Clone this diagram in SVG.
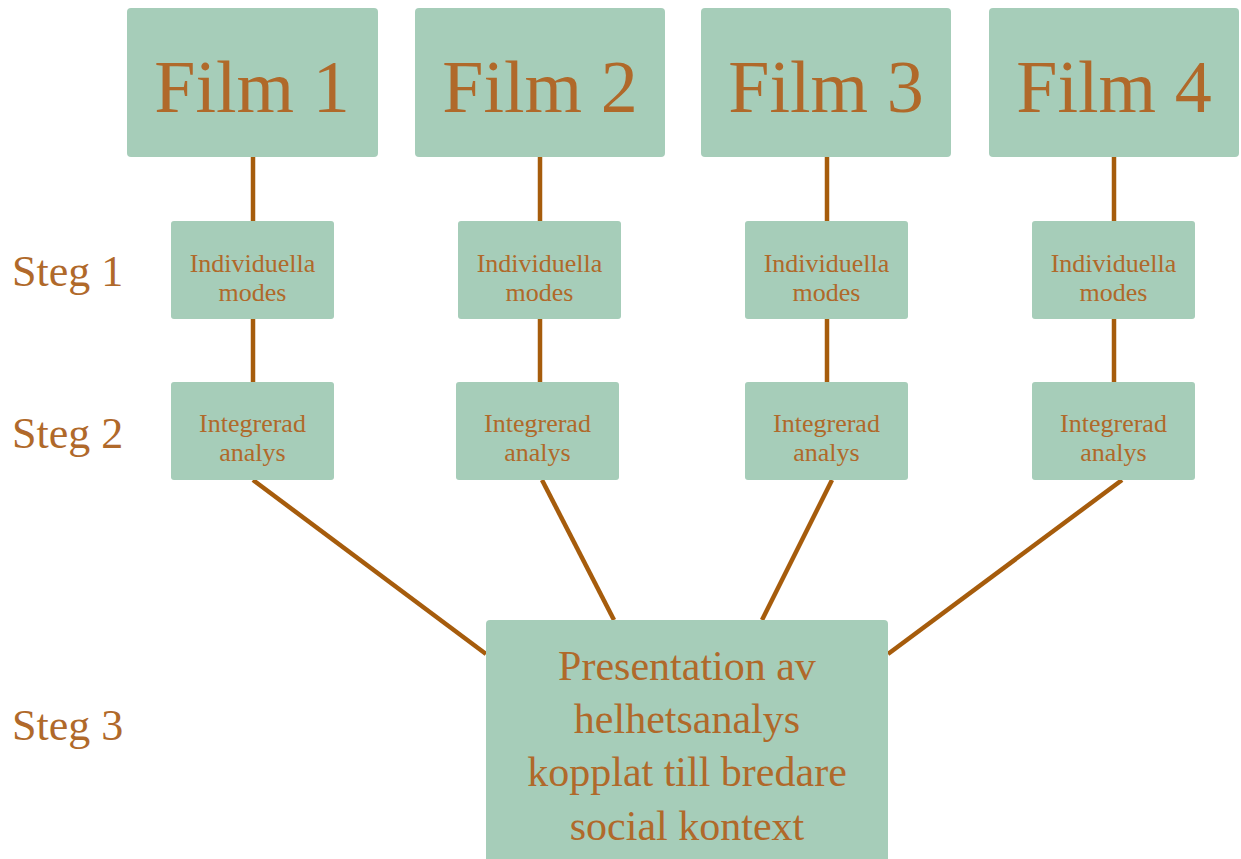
<svg xmlns="http://www.w3.org/2000/svg" width="1241" height="859" viewBox="0 0 1241 859">
<style>
.box{fill:#a6cdb9;}
.t{font-family:"Liberation Serif","DejaVu Serif",serif;fill:#b0692a;text-anchor:middle;}
.film{font-size:74px;}
.small{font-size:26px;}
.big{font-size:42px;}
.steg{font-family:"Liberation Serif","DejaVu Serif",serif;fill:#b0692a;font-size:44px;}
.c{stroke:#a65c0c;stroke-width:4.5;fill:none;}
</style>
<rect width="1241" height="859" fill="#ffffff"/>
<g id="connectors">
<line class="c" x1="253" y1="157" x2="253" y2="382"/>
<line class="c" x1="540" y1="157" x2="540" y2="382"/>
<line class="c" x1="827" y1="157" x2="827" y2="382"/>
<line class="c" x1="1114" y1="157" x2="1114" y2="382"/>
<line class="c" x1="253" y1="480" x2="486" y2="654"/>
<line class="c" x1="542" y1="480" x2="614" y2="620"/>
<line class="c" x1="832" y1="480" x2="762" y2="620"/>
<line class="c" x1="1122" y1="480" x2="888" y2="654"/>
</g>
<g id="film1"><rect class="box" x="127" y="8" width="251" height="149" rx="4"/><text class="t film" x="252" y="112">Film 1</text></g>
<g id="film2"><rect class="box" x="415" y="8" width="250" height="149" rx="4"/><text class="t film" x="540" y="112">Film 2</text></g>
<g id="film3"><rect class="box" x="701" y="8" width="250" height="149" rx="4"/><text class="t film" x="826" y="112">Film 3</text></g>
<g id="film4"><rect class="box" x="989" y="8" width="250" height="149" rx="4"/><text class="t film" x="1114" y="112">Film 4</text></g>
<g id="ind1"><rect class="box" x="171" y="221" width="163" height="98" rx="3"/><text class="t small" x="252.5" y="272">Individuella</text><text class="t small" x="252.5" y="301">modes</text></g>
<g id="ind2"><rect class="box" x="458" y="221" width="163" height="98" rx="3"/><text class="t small" x="539.5" y="272">Individuella</text><text class="t small" x="539.5" y="301">modes</text></g>
<g id="ind3"><rect class="box" x="745" y="221" width="163" height="98" rx="3"/><text class="t small" x="826.5" y="272">Individuella</text><text class="t small" x="826.5" y="301">modes</text></g>
<g id="ind4"><rect class="box" x="1032" y="221" width="163" height="98" rx="3"/><text class="t small" x="1113.5" y="272">Individuella</text><text class="t small" x="1113.5" y="301">modes</text></g>
<g id="int1"><rect class="box" x="171" y="382" width="163" height="98" rx="3"/><text class="t small" x="252.5" y="432">Integrerad</text><text class="t small" x="252.5" y="461">analys</text></g>
<g id="int2"><rect class="box" x="456" y="382" width="163" height="98" rx="3"/><text class="t small" x="537.5" y="432">Integrerad</text><text class="t small" x="537.5" y="461">analys</text></g>
<g id="int3"><rect class="box" x="745" y="382" width="163" height="98" rx="3"/><text class="t small" x="826.5" y="432">Integrerad</text><text class="t small" x="826.5" y="461">analys</text></g>
<g id="int4"><rect class="box" x="1032" y="382" width="163" height="98" rx="3"/><text class="t small" x="1113.5" y="432">Integrerad</text><text class="t small" x="1113.5" y="461">analys</text></g>
<g id="presentation"><rect class="box" x="486" y="620" width="402" height="245" rx="4"/>
<text class="t big" x="687" y="680">Presentation av</text>
<text class="t big" x="687" y="733">helhetsanalys</text>
<text class="t big" x="687" y="786">kopplat till bredare</text>
<text class="t big" x="687" y="840">social kontext</text>
</g>
<g id="labels">
<text class="steg" x="12" y="286">Steg 1</text>
<text class="steg" x="12" y="448">Steg 2</text>
<text class="steg" x="12" y="740">Steg 3</text>
</g>
</svg>
